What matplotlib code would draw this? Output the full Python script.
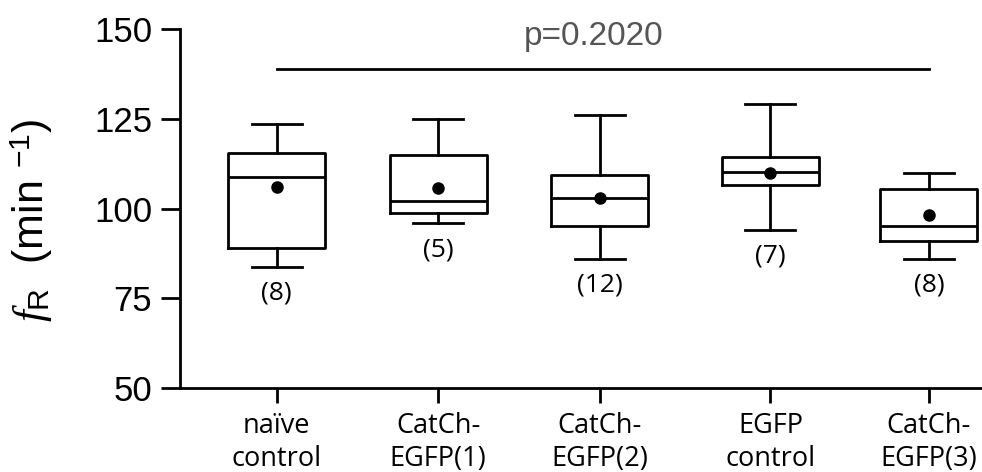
import matplotlib
matplotlib.use('Agg')
import matplotlib.pyplot as plt

plt.rcParams['font.family'] = ['Liberation Sans', 'DejaVu Sans']
plt.rcParams['mathtext.fontset'] = 'custom'
plt.rcParams['mathtext.rm'] = 'Liberation Sans'
plt.rcParams['mathtext.it'] = 'Liberation Serif:italic'

groups = ['naïve\ncontrol', 'CatCh-\nEGFP(1)', 'CatCh-\nEGFP(2)', 'EGFP\ncontrol', 'CatCh-\nEGFP(3)']
whishi = [123.6, 125.0, 126.2, 129.1, 110.0]
q3 = [115.5, 114.9, 109.5, 114.5, 105.6]
med = [108.9, 102.1, 103.0, 110.1, 95.3]
mean = [105.9, 105.8, 103.0, 110.0, 98.2]
q1 = [89.0, 98.9, 95.1, 106.5, 91.1]
whislo = [83.8, 95.9, 86.0, 94.0, 86.1]
n = [8, 5, 12, 7, 8]
p_value = 0.2020
p_bar = 139.0

pos = [1, 2, 3, 4.057, 5.038]

stats = []
for i in range(len(groups)):
    stats.append(dict(med=med[i], q1=q1[i], q3=q3[i], whislo=whislo[i],
                      whishi=whishi[i], mean=mean[i], fliers=[]))

fig = plt.figure(figsize=(9.82, 4.72), dpi=100)
ax = fig.add_axes([0.1833, 0.1773, 0.8167, 0.7613])

lw = 2.0
ax.bxp(stats, positions=pos, widths=0.6, capwidths=0.31, showmeans=True,
       showfliers=False,
       boxprops=dict(color='black', lw=lw),
       whiskerprops=dict(color='black', lw=lw),
       capprops=dict(color='black', lw=lw),
       medianprops=dict(color='black', lw=lw),
       meanprops=dict(marker='o', markerfacecolor='black', markeredgecolor='black',
                      markersize=8))

# sample sizes under each box
for x, lo, k in zip(pos, whislo, n):
    ax.text(x, lo - 7.3, '(%d)' % k, ha='center', va='center',
            fontsize=19, family='Open Sans')

# overall test bar
ax.plot([pos[0], pos[-1]], [p_bar, p_bar], color='black', lw=lw, clip_on=False)
ax.text(2.962, 148.0, 'p=%.4f' % p_value, ha='center', va='center',
        fontsize=24, color='#555555')

ax.set_xlim(0.401, 5.367)
ax.set_ylim(50, 150)
ax.set_yticks([50, 75, 100, 125, 150])
ax.set_xticks(pos)
ax.set_xticklabels(groups, family='Open Sans', fontsize=19.5, linespacing=1.25)
ax.tick_params(axis='y', labelsize=25, length=14, width=lw, pad=6)
ax.tick_params(axis='x', length=11, width=lw, pad=6)

for s in ['top', 'right']:
    ax.spines[s].set_visible(False)
for s in ['left', 'bottom']:
    ax.spines[s].set_linewidth(lw)

ax.set_ylabel(r'$f_{\mathrm{R}}$  (min $^{-1}$)', fontsize=31)
ax.yaxis.set_label_coords(-0.156, 0.467)

fig.savefig('out.png', dpi=100)
